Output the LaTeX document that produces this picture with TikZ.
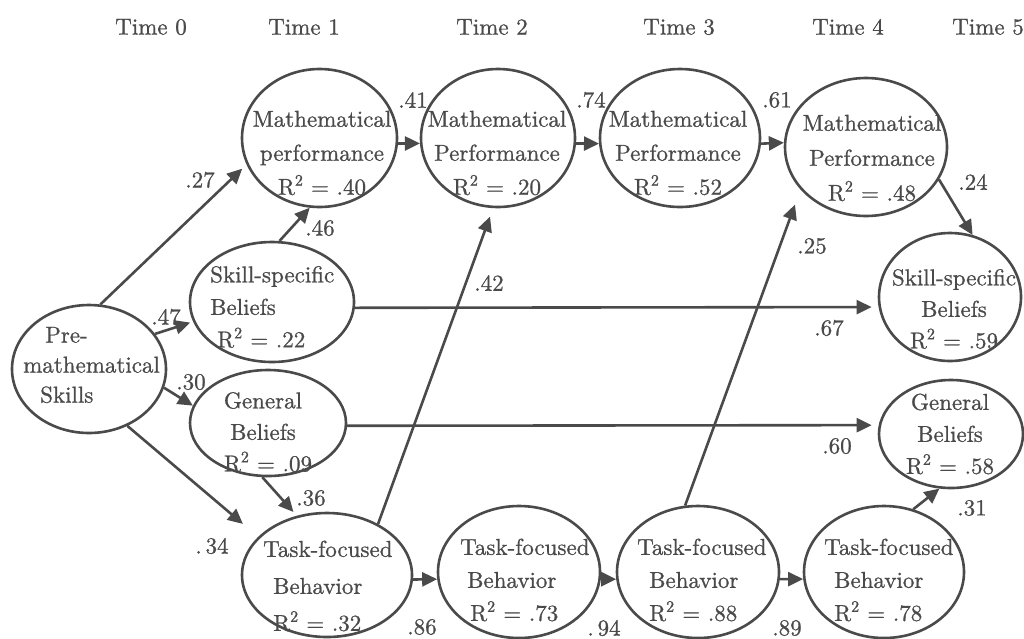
\documentclass[tikz,border=0pt]{standalone}
\usepackage{fontspec}
\setmainfont{lmroman10-regular}[Extension=.otf, FakeBold=0.9]
\usetikzlibrary{shapes.geometric,arrows.meta}
\definecolor{ink}{HTML}{4A4A4A}
\begin{document}
\begin{tikzpicture}[x=1pt,y=-1pt,
  oval/.style={draw=ink, line width=2.6pt, ellipse, inner sep=0pt},
  txt/.style={text=ink, inner sep=0pt, font=\fontsize{23}{34}\selectfont, align=center},
  ltxt/.style={txt, align=left, anchor=west},
  lbl/.style={text=ink, inner sep=0pt, font=\fontsize{23}{28}\selectfont},
  arr/.style={draw=ink, line width=2.6pt, -{Triangle[length=15pt,width=14pt]}},
]
\useasboundingbox (0,0) rectangle (1024,638);

% time headings
\node[lbl] (t0) at (151,27) {Time 0};
\node[lbl] (t1) at (304,27) {Time 1};
\node[lbl] (t2) at (492,27) {Time 2};
\node[lbl] (t3) at (679,27) {Time 3};
\node[lbl] (t4) at (848,27) {Time 4};
\node[lbl] (t5) at (988,27) {Time 5};

% latent variables
\node[oval, minimum width=154pt, minimum height=128pt] (pre) at (89,369) {};
\node[oval, minimum width=155pt, minimum height=138pt] (mp1) at (319.5,138) {};
\node[oval, minimum width=154pt, minimum height=138pt] (mp2) at (498,138) {};
\node[oval, minimum width=160pt, minimum height=138pt] (mp3) at (680,138) {};
\node[oval, minimum width=162pt, minimum height=138pt] (mp4) at (866,147) {};
\node[oval, minimum width=164pt, minimum height=120pt] (sk1) at (272,302) {};
\node[oval, minimum width=156pt, minimum height=106pt] (gb1) at (268,423) {};
\node[oval, minimum width=142pt, minimum height=128pt] (sk5) at (950,297) {};
\node[oval, minimum width=144pt, minimum height=108pt] (gb5) at (951,434) {};
\node[oval, minimum width=170pt, minimum height=124pt] (tf1) at (327,575) {};
\node[oval, minimum width=162pt, minimum height=132pt] (tf2) at (519,572) {};
\node[oval, minimum width=162pt, minimum height=132pt] (tf3) at (698,572) {};
\node[oval, minimum width=160pt, minimum height=132pt] (tf4) at (884,572) {};

% variable texts
\node[ltxt, font=\fontsize{23}{30}\selectfont] (pre-t) at (23,365)
  {\hspace*{22pt}Pre-\\mathematical\\\hspace*{17pt}Skills};
\node[txt] (mp1-t) at (322,153) {Mathematical\\performance\\R\textsuperscript{2} = .40};
\node[txt] (mp2-t) at (497,153) {Mathematical\\Performance\\R\textsuperscript{2} = .20};
\node[txt] (mp3-t) at (678,153) {Mathematical\\Performance\\R\textsuperscript{2} = .52};
\node[txt, font=\fontsize{23}{35}\selectfont] (mp4-t) at (872,158) {Mathematical\\Performance\\R\textsuperscript{2} = .48};
\node[ltxt, font=\fontsize{23}{32.5}\selectfont] (sk1-t) at (210,307)
  {Skill-specific\\Beliefs\\\hspace*{7pt}R\textsuperscript{2} = .22};
\node[txt, font=\fontsize{23}{31.5}\selectfont] (gb1-t) at (263,432) {General\\Beliefs\\\hspace*{10pt}R\textsuperscript{2} = .09};
\node[txt, font=\fontsize{23}{31.5}\selectfont] (sk5-t) at (954,309) {Skill-specific\\Beliefs\\R\textsuperscript{2} = .59};
\node[txt, font=\fontsize{23}{32}\selectfont] (gb5-t) at (950,434) {General\\Beliefs\\R\textsuperscript{2} = .58};
\node[ltxt, font=\fontsize{23}{37}\selectfont] (tf1-t) at (263,586)
  {Task-focused\\\hspace*{10pt}Behavior\\\hspace*{10pt}R\textsuperscript{2} = .32};
\node[ltxt, font=\fontsize{23}{33}\selectfont] (tf2-t) at (460,580)
  {Task-focused\\\hspace*{7pt}Behavior\\\hspace*{10pt}R\textsuperscript{2} = .73};
\node[ltxt, font=\fontsize{23}{33}\selectfont] (tf3-t) at (637,580)
  {Task-focused\\\hspace*{12pt}Behavior\\\hspace*{12pt}R\textsuperscript{2} = .88};
\node[ltxt, font=\fontsize{23}{33}\selectfont] (tf4-t) at (824,580)
  {Task-focused\\\hspace*{10pt}Behavior\\\hspace*{10pt}R\textsuperscript{2} = .78};

% paths
\draw[arr, shorten >=6pt] (pre.80) -- (mp1.200);
\draw[arr] (sk1.83) -- (mp1.262);
\draw[arr, shorten >=3pt] (pre.28) -- (sk1.194);
\draw[arr] (pre.346) -- (gb1.167);
\draw[arr, shorten >=20pt] (pre.304) -- (tf1.151);
\draw[arr, shorten >=5pt] (gb1.264) -- (tf1.117);
\draw[arr, shorten >=9pt] (tf1.45) -- (mp2.266);
\draw[arr] (mp1.-4) -- (mp2.184);
\draw[arr] (mp2.-4) -- (mp3.184);
\draw[arr] (mp3.-4) -- (mp4.177);
\draw[arr] (mp4.336) -- (sk5.70);
\draw[arr, shorten >=7pt] (sk1.-4) -- (sk5.188);
\draw[arr, shorten >=7pt] (gb1.-2) -- (gb5.173);
\draw[arr, shorten >=16pt] (tf3.101) -- (mp4.213);
\draw[arr] (tf4.65) -- (gb5.258);
\draw[arr] (tf1.-3) -- (tf2.185);
\draw[arr] (tf2.-5) -- (tf3.185);
\draw[arr] (tf3.-5) -- (tf4.185);

% path coefficients
\node[lbl] (c27) at (200,180) {.27};
\node[lbl] (c46) at (320,228) {.46};
\node[lbl] (c47) at (166,317) {.47};
\node[lbl] (c30) at (191,382) {.30};
\node[lbl] (c34) at (212,546) {.\,34};
\node[lbl] (c36) at (311,498) {.36};
\node[lbl] (c42) at (489,283) {.42};
\node[lbl] (c41) at (413,100) {.41};
\node[lbl] (c74) at (591,100) {.74};
\node[lbl] (c61) at (777,100) {.61};
\node[lbl] (c24) at (973,182) {.24};
\node[lbl] (c67) at (829,328) {.67};
\node[lbl] (c60) at (837,446) {.60};
\node[lbl] (c25) at (812,246) {.25};
\node[lbl] (c31) at (972,508) {.31};
\node[lbl] (c86) at (422,627) {.86};
\node[lbl] (c94) at (604,628) {.\,94};
\node[lbl] (c89) at (787,628) {.89};
\end{tikzpicture}
\end{document}
